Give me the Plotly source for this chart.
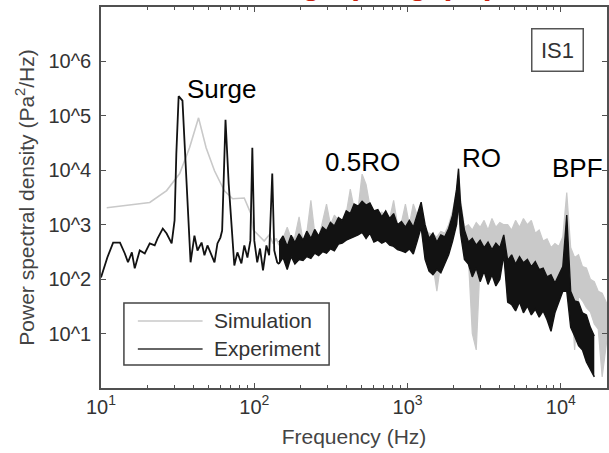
import math
import plotly.graph_objects as go

# ---------------- data ----------------
# Experiment, low-frequency part (Hz, Pa^2/Hz)
exp_freq_low = [10.0, 11.0, 12.0, 13.3, 14.3, 15.0, 15.9, 16.6, 17.9, 19.3,
                20.8, 22.4, 23.4, 25.3, 26.8, 28.9, 30.2, 31.0, 32.1, 33.2,
                34.0, 36.1, 38.4, 40.7, 42.6, 45.3, 47.3, 49.5, 52.6, 55.0,
                57.5, 60.1, 61.7, 64.9, 68.1, 71.9, 74.1, 77.6, 82.4, 86.1,
                90.2, 94.3, 97.1, 100.0, 104.5, 109.0, 114.0, 120.0, 125.0, 131.0,
                135.0, 141.0]
exp_psd_low = [107, 250, 470, 470, 296, 204, 310, 158, 336, 296,
               453, 417, 560, 850, 690, 453, 1200, 2.0e4, 2.3e5, 2.0e5,
               1.9e5, 6.5e3, 204, 630, 336, 470, 274, 417, 274, 204,
               453, 580, 780, 8.5e4, 5.6e3, 580, 178, 310, 195, 417,
               250, 510, 2.6e4, 510, 204, 365, 145, 417, 274, 8.7e3,
               336, 204]

# Simulation, low-frequency part
sim_freq_low = [10.9, 20.8, 26.8, 32.6, 37.8, 43.3, 48.5, 55.0, 63.8, 72.3,
                86.0, 95.0, 98.5, 107.6, 116.0, 125.0, 133.0, 139.0]
sim_psd_low = [2050, 2560, 4240, 8700, 2.6e4, 9.2e4, 2.6e4, 9800, 4200, 3000,
               3100, 1600, 800, 630, 500, 650, 450, 560]

# Broadband part: frequency bins (Hz) with the upper / lower extent of the
# noisy spectrum inside each bin
band_freq = [145, 154, 164, 174, 184, 196, 208, 220, 234, 248,
             263, 279, 296, 314, 333, 354, 375, 398, 423, 448,
             476, 505, 536, 568, 603, 640, 679, 720, 764, 811,
             860, 912, 968, 1027, 1090, 1156, 1226, 1301, 1380, 1464,
             1553, 1648, 1748, 1854, 1967, 2087, 2150, 2214, 2349, 2492,
             2644, 2805, 2975, 3157, 3349, 3553, 3769, 3999, 4242, 4500,
             4775, 5065, 5374, 5701, 6048, 6417, 6808, 7222, 7662, 8129,
             8624, 9149, 9706, 10298, 10925, 11590, 12296, 13045, 13839, 14682,
             15576, 16525]

exp_band_hi = [480, 620, 400, 640, 470, 680, 520, 760, 560, 820,
               620, 900, 780, 1100, 950, 1350, 1200, 1800, 1600, 2400,
               2200, 2700, 2300, 2500, 1800, 1900, 1400, 1800, 1300, 1600,
               1000, 1150, 900, 1200, 900, 1600, 2600, 1000, 560, 700,
               480, 650, 600, 850, 1500, 4500, 1.07e4, 2500, 800, 480,
               560, 420, 520, 380, 480, 350, 460, 380, 650, 220,
               280, 190, 260, 200, 230, 170, 210, 150, 160, 110,
               120, 85, 120, 170, 1500, 60, 40, 38, 24, 22,
               13, 9]
exp_band_lo = [190, 250, 150, 260, 190, 230, 220, 260, 240, 300,
               270, 320, 300, 360, 330, 440, 460, 520, 560, 600,
               650, 720, 560, 700, 480, 520, 460, 500, 420, 400,
               350, 330, 310, 360, 290, 500, 900, 230, 140, 120,
               150, 130, 190, 280, 500, 1000, 2500, 700, 230, 190,
               110, 160, 90, 140, 80, 120, 75, 100, 280, 38,
               34, 26, 38, 24, 32, 22, 28, 20, 26, 18,
               11, 24, 38, 60, 60, 13, 9, 6, 5, 3,
               2.2, 1.6]

sim_band_freq = band_freq + [17531, 18598, 20000]
sim_band_hi = [420, 560, 900, 560, 600, 1400, 500, 700, 2800, 700,
               560, 1200, 2400, 1000, 1500, 1200, 1100, 1600, 4500, 2000,
               2000, 8500, 5500, 2200, 1600, 1500, 1700, 1400, 1300, 2800,
               1000, 1100, 2400, 1000, 2400, 1500, 2000, 800, 700, 650,
               600, 750, 700, 1000, 1800, 4000, 8000, 3000, 900, 1000,
               800, 1100, 900, 1200, 800, 1300, 900, 1100, 1000, 1000,
               800, 1200, 900, 1300, 1000, 1200, 700, 800, 500, 550,
               380, 450, 400, 600, 3900, 380, 250, 280, 170, 160,
               100, 90, 60, 55, 35]
sim_band_lo = [220, 240, 220, 240, 240, 250, 300, 280, 300, 320,
               300, 350, 400, 450, 420, 450, 500, 550, 600, 650,
               700, 700, 700, 800, 700, 600, 500, 550, 450, 450,
               400, 380, 350, 350, 400, 700, 900, 300, 200, 180,
               60, 200, 250, 300, 700, 1000, 2000, 800, 300, 250,
               10, 5, 200, 300, 250, 220, 300, 250, 400, 36,
               160, 180, 150, 200, 180, 140, 120, 100, 90, 80,
               60, 90, 100, 150, 150, 70, 5, 50, 40, 30,
               25, 15, 12, 1.6, 8]

x_tickvals = [10, 100, 1000, 10000]
x_ticktext = ["10<sup>1</sup>", "10<sup>2</sup>", "10<sup>3</sup>", "10<sup>4</sup>"]
y_tickvals = [1e1, 1e2, 1e3, 1e4, 1e5, 1e6]
y_ticktext = ["10^1", "10^2", "10^3", "10^4", "10^5", "10^6"]

series_names = ["Simulation", "Experiment"]
peak_labels = ["Surge", "0.5RO", "RO", "BPF"]
panel_label = "IS1"

# ---------------- figure ----------------
FONT = "Liberation Sans, Arial, Helvetica, sans-serif"
SIM_COLOR = "#c9c9c9"
EXP_COLOR = "#121212"
AX_COLOR = "#505050"

fig = go.Figure()
# Simulation
fig.add_trace(go.Scatter(x=sim_freq_low + sim_band_freq[:1], y=sim_psd_low + sim_band_hi[:1],
                         mode="lines", name=series_names[0],
                         line=dict(color=SIM_COLOR, width=1.6), showlegend=False))
fig.add_trace(go.Scatter(x=sim_band_freq, y=sim_band_lo, mode="lines", name=series_names[0],
                         line=dict(color=SIM_COLOR, width=1.2), showlegend=False))
fig.add_trace(go.Scatter(x=sim_band_freq, y=sim_band_hi, mode="lines", name=series_names[0],
                         line=dict(color=SIM_COLOR, width=1.2), fill="tonexty",
                         fillcolor=SIM_COLOR, showlegend=False))
# Experiment
fig.add_trace(go.Scatter(x=exp_freq_low + band_freq[:1], y=exp_psd_low + exp_band_lo[:1],
                         mode="lines", name=series_names[1],
                         line=dict(color=EXP_COLOR, width=1.8), showlegend=False))
fig.add_trace(go.Scatter(x=band_freq, y=exp_band_lo, mode="lines", name=series_names[1],
                         line=dict(color=EXP_COLOR, width=1.4), showlegend=False))
fig.add_trace(go.Scatter(x=band_freq, y=exp_band_hi, mode="lines", name=series_names[1],
                         line=dict(color=EXP_COLOR, width=1.4), fill="tonexty",
                         fillcolor=EXP_COLOR, showlegend=False))

minor_vals = [m * 10 ** k for k in range(1, 5) for m in range(2, 10)]

fig.update_xaxes(type="log", range=[1, math.log10(2e4)],
                 tickvals=x_tickvals, ticktext=x_ticktext,
                 ticks="inside", ticklen=5, tickwidth=1, tickcolor=AX_COLOR,
                 showline=True, linecolor=AX_COLOR, linewidth=1.5, mirror="ticks",
                 showgrid=False, zeroline=False,
                 tickfont=dict(family=FONT, size=20, color="#333333"),
                 minor=dict(tickvals=minor_vals, ticks="inside", ticklen=3,
                            tickcolor=AX_COLOR, tickwidth=1, showgrid=False),
                 title=dict(text="Frequency (Hz)", standoff=13,
                            font=dict(family=FONT, size=21, color="#444444")))
fig.update_yaxes(type="log", range=[0, 7],
                 tickvals=y_tickvals, ticktext=y_ticktext,
                 ticks="inside", ticklen=5, tickwidth=1, tickcolor=AX_COLOR,
                 ticklabelstandoff=4,
                 showline=True, linecolor=AX_COLOR, linewidth=1.5, mirror="ticks",
                 showgrid=False, zeroline=False,
                 tickfont=dict(family=FONT, size=20, color="#333333"),
                 title=dict(text="Power spectral density (Pa<sup>2</sup>/Hz)", standoff=8,
                            font=dict(family=FONT, size=21, color="#444444")))

annos = []
# peak labels (x in log10 Hz, y in log10 PSD)
for txt, xl, yl in zip(peak_labels, [1.786, 2.708, 3.481, 4.110], [5.49, 4.15, 4.225, 4.04]):
    annos.append(dict(text=txt, x=xl, y=yl, xref="x", yref="y", showarrow=False,
                      xanchor="center", yanchor="middle",
                      font=dict(family=FONT, size=26, color="#000000")))
# panel tag
annos.append(dict(text=panel_label, x=3.981, y=6.219, xref="x", yref="y", showarrow=False,
                  width=48, height=39, borderpad=1, bordercolor="#555555", borderwidth=1.5,
                  bgcolor="white", font=dict(family=FONT, size=22, color="#333333")))
# clipped red heading at the very top
annos.append(dict(text="<b>Surge (Large) spectrum</b>", x=0.287, y=1.010, xref="paper", yref="paper",
                  xanchor="left", yanchor="bottom", showarrow=False,
                  font=dict(family=FONT, size=32, color="#c8200c")))
# legend texts
for txt, yp in zip(series_names, [0.1759, 0.1024]):
    annos.append(dict(text=txt, x=0.2185, y=yp, xref="paper", yref="paper",
                      xanchor="left", yanchor="middle", showarrow=False,
                      font=dict(family=FONT, size=21, color="#333333")))

shapes = [
    dict(type="rect", xref="paper", yref="paper", x0=0.0453, x1=0.4508, y0=0.0604, y1=0.2231,
         line=dict(color="#444444", width=1.5), fillcolor="white", layer="above"),
    dict(type="line", xref="paper", yref="paper", x0=0.0728, x1=0.2008, y0=0.1759, y1=0.1759,
         line=dict(color=SIM_COLOR, width=1.5), layer="above"),
    dict(type="line", xref="paper", yref="paper", x0=0.0728, x1=0.2008, y0=0.1024, y1=0.1024,
         line=dict(color="#333333", width=1.5), layer="above"),
]

fig.update_layout(width=609, height=453,
                  margin=dict(l=101, r=0, t=7, b=65, pad=0),
                  paper_bgcolor="white", plot_bgcolor="white",
                  font=dict(family=FONT, color="#333333"),
                  showlegend=False, annotations=annos, shapes=shapes)

fig.write_html("out.html", config={"displayModeBar": False},
               post_script="document.body.style.margin='0';")
